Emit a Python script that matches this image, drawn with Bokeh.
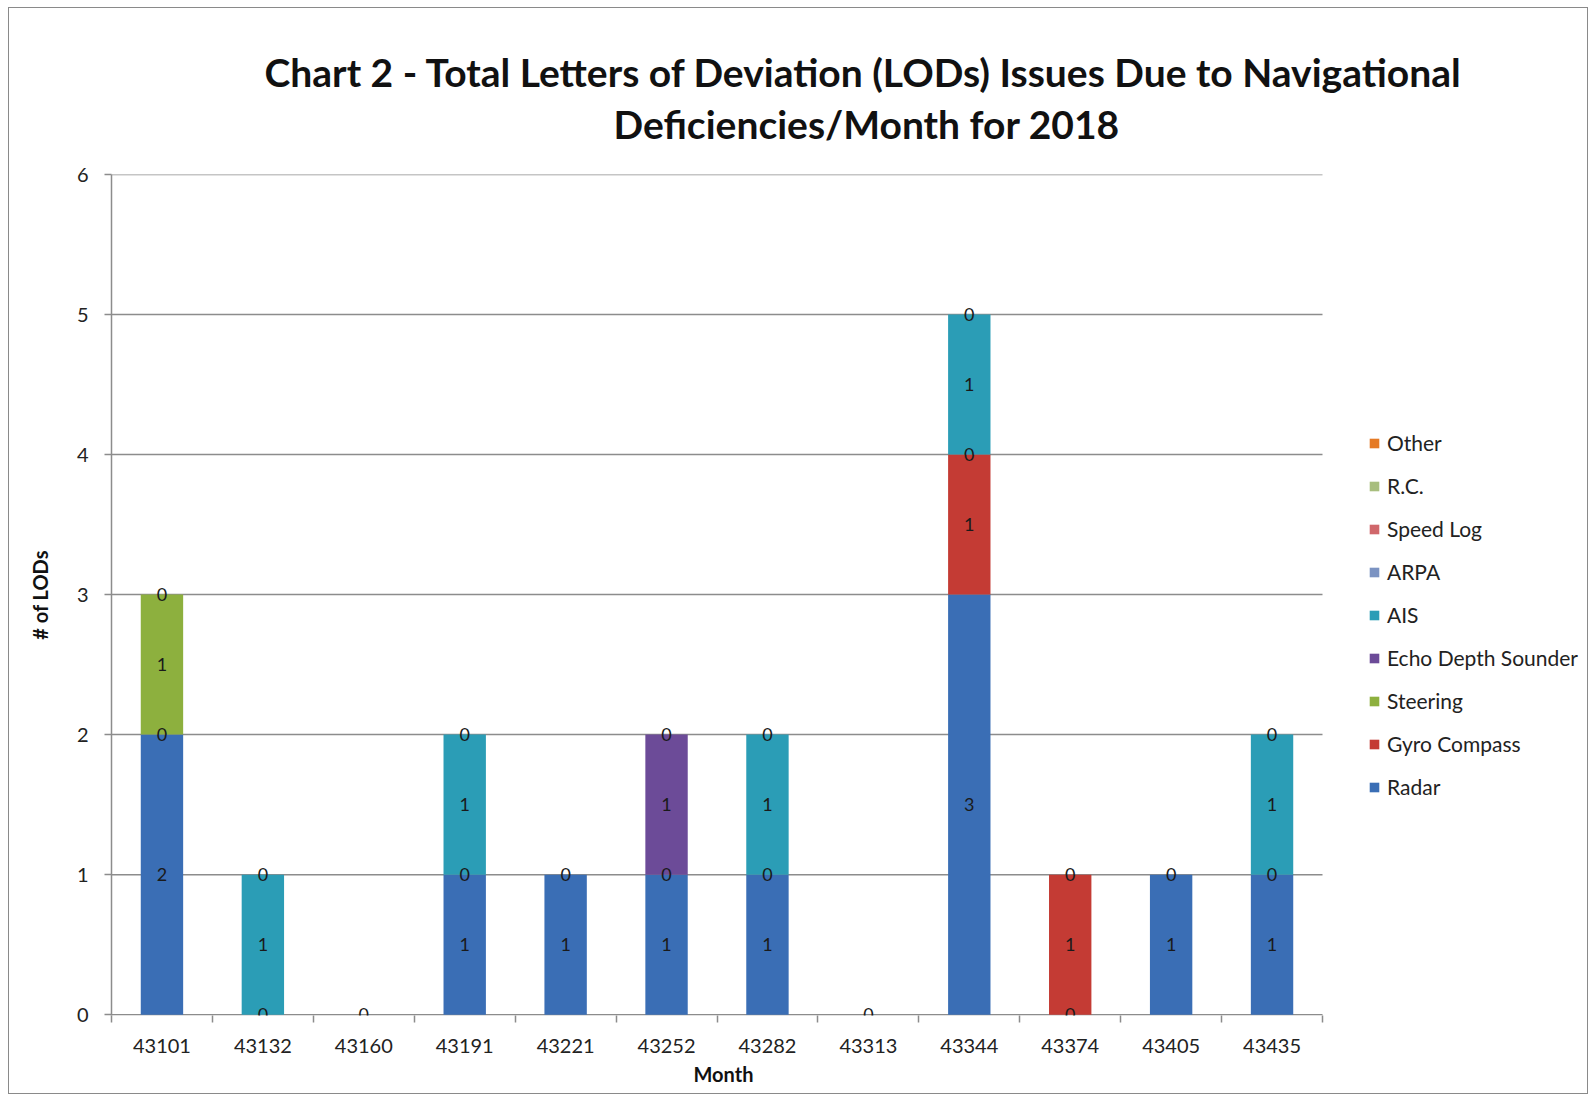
import numpy as np
from bokeh.plotting import figure
from bokeh.models import ColumnDataSource, FixedTicker, Legend, LegendItem, Title
from bokeh.core.properties import value
from bokeh.embed import file_html
from bokeh.resources import INLINE

# ---- data ----
months = ["43101", "43132", "43160", "43191", "43221", "43252",
          "43282", "43313", "43344", "43374", "43405", "43435"]

radar     = [2, 0, 0, 1, 1, 1, 1, 0, 3, 0, 1, 1]
gyro      = [0, None, None, 0, 0, 0, 0, None, 1, 1, 0, 0]
steering  = [1, None, None, None, None, None, None, None, 0, 0, None, None]
echo      = [0, None, None, None, None, 1, None, None, None, None, None, None]
ais       = [None, 1, None, 1, None, 0, 1, None, 1, None, None, 1]
arpa      = [None, 0, None, 0, None, None, 0, None, 0, None, None, 0]
speed_log = [None] * 12
rc        = [None] * 12
other     = [None] * 12

series_names = ["Radar", "Gyro Compass", "Steering", "Echo Depth Sounder", "AIS",
                "ARPA", "Speed Log", "R.C.", "Other"]
series_values = [radar, gyro, steering, echo, ais, arpa, speed_log, rc, other]
series_colors = ["#3A6EB5", "#C43B34", "#8DB03E", "#6C4B98", "#2B9DB6",
                 "#7B93C2", "#D0676B", "#A8BE7E", "#E57A25"]

y_ticks = [0, 1, 2, 3, 4, 5, 6]

FONT = "Lato"

# layout sizes (pixels)
W, H = 1580, 1087
LEFT, TOP, BOTTOM = 102, 166, 80
CAT_PX = 1211 / len(months)          # pixel width of one month slot
n = len(months)
x_start = 0.5
x_end = x_start + (W - LEFT) / CAT_PX  # frame runs to the right edge; legend sits there

p = figure(width=W, height=H, x_range=(x_start, x_end), y_range=(-0.006, max(y_ticks)),
           output_backend="svg", toolbar_location=None,
           min_border_left=LEFT, min_border_right=0, min_border_top=TOP, min_border_bottom=BOTTOM)
p.styles = {"border": "1px solid #8a8a8a", "margin-left": "8px", "margin-top": "7px"}

grey = "#8c8c8c"
xs = np.arange(1, n + 1)

# gridlines and x-axis line limited to the month slots
p.segment(x0=[x_start] * len(y_ticks), x1=[n + 0.5] * len(y_ticks), y0=y_ticks, y1=y_ticks,
          line_color=grey, line_width=1.5)

bottom = np.zeros(n)
legend_items = []
label_x, label_y, label_t = [], [], []
for name, vals, col in zip(series_names, series_values, series_colors):
    v = np.array([0 if a is None else a for a in vals], dtype=float)
    top = bottom + v
    src = ColumnDataSource(dict(x=xs, bottom=bottom.copy(), top=top.copy()))
    r = p.vbar(x="x", bottom="bottom", top="top", width=0.42, source=src,
               fill_color=col, line_color=None)
    legend_items.append(LegendItem(label=name, renderers=[r]))
    for i, a in enumerate(vals):
        if a is not None:
            label_x.append(xs[i])
            label_y.append((bottom[i] + top[i]) / 2)
            label_t.append(str(a))
    bottom = top

lab_src = ColumnDataSource(dict(x=label_x, y=label_y, t=label_t))
p.text(x="x", y="y", text="t", source=lab_src, text_align="center", text_baseline="middle",
       text_font=value(FONT), text_font_size="18px", text_color="#1a1a1a")

legend = Legend(items=list(reversed(legend_items)), location=(1257, 216),
                label_text_font=FONT, label_text_font_size="21px", label_text_color="#222222",
                glyph_width=12, glyph_height=12, label_height=20, spacing=18,
                label_standoff=7, padding=0, margin=0,
                border_line_color=None, background_fill_alpha=0)
p.add_layout(legend, "center")

# titles
t2 = Title(text="Deficiencies/Month for 2018", align="left", offset=502,
           text_font=FONT, text_font_size="39px", text_font_style="bold",
           text_color="#111111", standoff=55, text_line_height=1.0)
t1 = Title(text="Chart 2 - Total Letters of Deviation (LODs) Issues Due to Navigational",
           align="left", offset=153, text_font=FONT, text_font_size="39px",
           text_font_style="bold", text_color="#111111", standoff=-46, text_line_height=1.0)
p.add_layout(t2, "above")
p.add_layout(t1, "above")

# axes
p.xaxis.ticker = FixedTicker(ticks=list(xs), minor_ticks=list(np.arange(0.5, n + 1, 1.0)))
p.xaxis.major_label_overrides = {int(i): m for i, m in zip(xs, months)}
p.xaxis.axis_line_color = None
p.xaxis.major_tick_out = 0
p.xaxis.major_tick_in = 0
p.xaxis.minor_tick_out = 7
p.xaxis.minor_tick_in = 0
p.xaxis.minor_tick_line_color = grey
p.xaxis.minor_tick_line_width = 1.5
p.xaxis.major_label_standoff = 16

# x-axis title centred under the month slots
xt = Title(text="Month", align="left", offset=582, text_font=FONT, text_font_size="20px",
           text_font_style="bold", text_color="#111111", standoff=9)
p.add_layout(xt, "below")

p.yaxis.ticker = FixedTicker(ticks=y_ticks, minor_ticks=[])
p.yaxis.axis_line_color = grey
p.yaxis.axis_line_width = 1.5
p.yaxis.major_tick_out = 7
p.yaxis.major_tick_in = 0
p.yaxis.major_tick_line_color = grey
p.yaxis.major_tick_line_width = 1.5
p.yaxis.major_label_standoff = 16
p.yaxis.axis_label = "# of LODs"
p.yaxis.axis_label_standoff = 22

for ax in (p.xaxis, p.yaxis):
    ax.major_label_text_font = FONT
    ax.major_label_text_font_size = "20px"
    ax.major_label_text_color = "#222222"
    ax.axis_label_text_font = FONT
    ax.axis_label_text_font_size = "20px"
    ax.axis_label_text_font_style = "bold"
    ax.axis_label_text_color = "#111111"

p.xgrid.visible = False
p.ygrid.visible = False
p.outline_line_color = None

open("out.html", "w").write(file_html(p, INLINE))
